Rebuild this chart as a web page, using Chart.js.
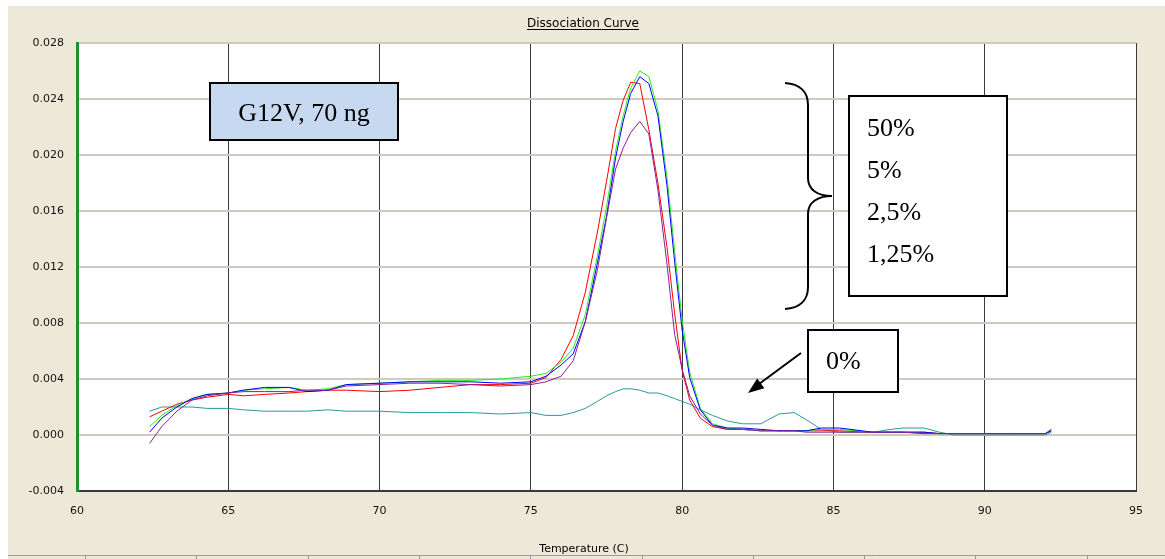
<!DOCTYPE html>
<html><head><meta charset="utf-8">
<script src="https://cdn.jsdelivr.net/npm/chart.js@4.4.1/dist/chart.umd.min.js"></script>
<style>html,body{margin:0;padding:0;background:#fff;overflow:hidden}</style>
</head><body>
<canvas id="c" width="1165" height="559"></canvas>
<script>
// ---- data ----
const temps = [62.4,62.8,63.3,63.8,64.3,65,65.5,66.2,67,67.6,68.3,68.9,70,71,72,73,74,75,75.5,76,
  76.4,76.8,77.2,77.5,77.8,78.05,78.3,78.6,78.9,79.2,79.5,79.75,80,80.25,80.6,81,81.5,82,82.6,83.2,
  83.7,84.1,84.6,85.2,86.3,86.9,87.3,88,88.5,89,90,91,92,92.2];
const series50 = [.0013,.0017,.0022,.0025,.0027,.0029,.0028,.0029,.0030,.0031,
  .0032,.0032,.0031,.0032,.0034,.0036,.0036,.0037,.0041,.0054,
  .0071,.0102,.0145,.0181,.0219,.0239,.0252,.0251,.0218,.0180,
  .0134,.0087,.0046,.0025,.0012,.0006,.0004,.0004,.0003,.0003,
  .0003,.0003,.0003,.0003,.0002,.0002,.0002,.0002,.0001,.0001,
  .0001,.0001,.0001,.0003];
const series5 = [.0006,.0014,.0021,.0026,.0029,.0030,.0032,.0033,.0034,.0032,
  .0033,.0036,.0037,.0038,.0039,.0039,.0040,.0042,.0044,.0052,
  .0062,.0086,.0128,.0163,.0203,.0228,.0248,.0260,.0256,.0232,
  .0184,.0132,.0082,.0045,.0019,.0008,.0005,.0004,.0003,.0003,
  .0003,.0003,.0004,.0004,.0002,.0002,.0002,.0001,.0001,.0001,
  .0001,.0001,.0001,.0003];
const series25 = [.0002,.0012,.0020,.0026,.0029,.0030,.0032,.0034,.0034,.0031,
  .0032,.0036,.0037,.0038,.0038,.0038,.0037,.0038,.0042,.0050,
  .0058,.0081,.0123,.0156,.0198,.0224,.0244,.0256,.0251,.0228,
  .0178,.0124,.0075,.0041,.0018,.0007,.0005,.0005,.0004,.0003,
  .0003,.0003,.0005,.0005,.0002,.0002,.0002,.0002,.0001,.0001,
  .0001,.0001,.0001,.0003];
const series125 = [-.0006,.0006,.0017,.0025,.0028,.0030,.0031,.0031,.0031,.0032,
  .0032,.0035,.0036,.0037,.0037,.0036,.0035,.0036,.0038,.0042,
  .0053,.0081,.0118,.0155,.0190,.0205,.0216,.0224,.0215,.0175,
  .0122,.0072,.0047,.0028,.0015,.0007,.0004,.0004,.0003,.0003,
  .0003,.0002,.0002,.0002,.0002,.0002,.0002,.0001,.0001,.0001,
  .0001,.0001,.0001,.0004];
const series0 = [.0017,.0020,.0020,.0020,.0019,.0019,.0018,.0017,.0017,.0017,
  .0018,.0017,.0017,.0016,.0016,.0016,.0015,.0016,.0014,.0014,
  .0016,.0019,.0024,.0028,.0031,.0033,.0033,.0032,.0030,.0030,
  .0028,.0026,.0024,.0022,.0018,.0014,.0010,.0008,.0008,.0015,
  .0016,.0011,.0004,.0002,.0002,.0004,.0005,.0005,.0002,.0000,
  .0000,.0000,.0000,.0002];
const seriesNames = ['1,25%','2,5%','5%','50%','0%'];
const xTickValues = [60,65,70,75,80,85,90,95];
const yTickValues = [-0.004,0,0.004,0.008,0.012,0.016,0.020,0.024,0.028];
const legendLines = ['50%','5%','2,5%','1,25%'];
const chartTitle = 'Dissociation Curve';
const xTitle = 'Temperature (C)';
const boxTitle = 'G12V, 70 ng';
const zeroLabel = '0%';

const pts = arr => temps.map((t,i)=>({x:t,y:arr[i]}));
const seriesData = [series125, series25, series5, series50, series0];
const seriesColors = ['#8a1f9a','#0000ff','#22ee22','#ff0000','#2a9a9a'];

const W = 1165, H = 559;
const decor = {
  id:'decor',
  beforeDraw(chart){
    const c = chart.ctx, a = chart.chartArea;
    c.save();
    c.fillStyle = '#ffffff'; c.fillRect(0,0,W,H);
    c.fillStyle = '#ece9d8'; c.fillRect(8,6,W-8,H-6);
    c.fillStyle = '#ffffff'; c.fillRect(a.left,a.top,a.right-a.left,a.bottom-a.top);
    // bottom strip line with ticks
    c.strokeStyle = '#9a9a9a'; c.lineWidth = 1;
    c.beginPath(); c.moveTo(8,555.5); c.lineTo(W,555.5);
    for (let k=0;k<10;k++){ const x = Math.round(85 + k*111.3)+0.5; c.moveTo(x,555.5); c.lineTo(x,559); }
    c.stroke();
    // titles
    c.fillStyle = '#000';
    c.font = '12px "DejaVu Sans"';
    c.textAlign = 'center'; c.textBaseline = 'alphabetic';
    c.fillText(chartTitle, 583, 27);
    const tw = c.measureText(chartTitle).width;
    c.fillRect(583 - tw/2, 29, tw, 1);
    c.font = '11px "DejaVu Sans"';
    c.fillText(xTitle, 584, 552);
    c.restore();
  },
  afterDraw(chart){
    const c = chart.ctx;
    c.save();
    // G12V box
    c.fillStyle = '#c6d9f1'; c.fillRect(210,83,188,57);
    c.strokeStyle = '#000'; c.lineWidth = 2; c.strokeRect(210,83,188,57);
    c.fillStyle = '#000';
    c.font = '26px "Liberation Serif"'; c.textAlign='center'; c.textBaseline='alphabetic';
    c.fillText(boxTitle, 304, 121);
    // percentages box
    c.fillStyle = '#fff'; c.fillRect(849,96,158,200);
    c.strokeRect(849,96,158,200);
    c.fillStyle = '#000'; c.textAlign = 'left';
    const bases = [136,178,220,262];
    legendLines.forEach((t,i)=>c.fillText(t, 867, bases[i]));
    // 0% box
    c.fillStyle = '#fff'; c.fillRect(808,330,90,62);
    c.strokeRect(808,330,90,62);
    c.fillStyle = '#000'; c.fillText(zeroLabel, 826, 369);
    // arrow
    c.beginPath(); c.moveTo(801,353); c.lineTo(759,384); c.stroke();
    c.beginPath(); c.moveTo(748,393); c.lineTo(764.4,388.2); c.lineTo(757.2,378.6); c.closePath(); c.fill();
    // brace
    c.lineWidth = 2;
    c.beginPath();
    c.moveTo(785,83);
    c.bezierCurveTo(800,84, 808,92, 808,105);
    c.lineTo(808,178);
    c.bezierCurveTo(808,190, 818,196, 832,196);
    c.bezierCurveTo(818,196, 808,202, 808,214);
    c.lineTo(808,287);
    c.bezierCurveTo(808,300, 800,308, 785,309);
    c.stroke();
    c.restore();
  }
};

new Chart(document.getElementById('c'), {
  type:'line',
  data:{ datasets: seriesData.map((arr,i)=>({
    label: seriesNames[i], data: pts(arr), borderColor: seriesColors[i], backgroundColor: seriesColors[i],
    borderWidth: 1, pointRadius: 0, tension: 0, fill:false
  }))},
  options:{
    responsive:false, animation:false, devicePixelRatio:1,
    layout:{ padding:{ top:43, right:29, left:0, bottom:0 } },
    plugins:{ legend:{display:false}, title:{display:false}, tooltip:{enabled:false} },
    scales:{
      x:{ type:'linear', min:60, max:95,
        afterBuildTicks: s => { s.ticks = xTickValues.map(v=>({value:v})); },
        afterFit: s => { s.height = 68; },
        ticks:{ padding:14, color:'#111', font:{family:'DejaVu Sans', size:11}, maxRotation:0, callback: v => String(v) },
        grid:{ drawTicks:false, lineWidth:1, color: ctx => (ctx.tick && ctx.tick.value===60) ? 'rgba(0,0,0,0)' : '#3a3a3a' },
        border:{ display:true, color:'#3a3a3a', width:2 }
      },
      y:{ type:'linear', min:-0.004, max:0.028,
        afterBuildTicks: s => { s.ticks = yTickValues.map(v=>({value:v})); },
        afterFit: s => { s.width = 77; },
        ticks:{ padding:13, color:'#111', font:{family:'DejaVu Sans', size:11}, callback: v => Number(v).toFixed(3) },
        grid:{ drawTicks:false, lineWidth:2, color:'#cfcabd' },
        border:{ display:true, color:'#1f8f2f', width:3 }
      }
    }
  },
  plugins:[decor]
});
</script>
</body></html>
